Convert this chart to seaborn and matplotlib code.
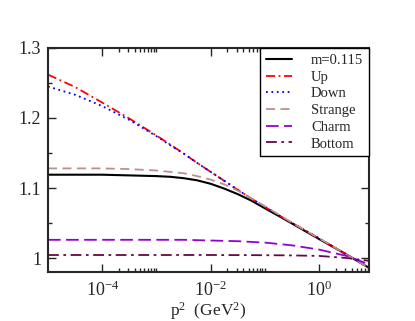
# Quark propagator ratio vs p^2 (log scale), xmgrace-style chart

import numpy as np
import pandas as pd
import matplotlib
matplotlib.use('Agg')
import matplotlib.pyplot as plt
import seaborn as sns
from matplotlib.ticker import FixedLocator, FuncFormatter

# ===== DATA ==================================================================

p2 = [1e-5, 3.2e-5, 1e-4, 3.2e-4, 1e-3, 1.8e-3, 3.2e-3, 5.6e-3, 1e-2,
      1.8e-2, 3.2e-2, 5.6e-2, 0.1, 0.18, 0.32, 1.0, 3.2, 8.3]

m0115   = [1.119, 1.119, 1.119, 1.118, 1.117, 1.116, 1.114, 1.111, 1.106,
           1.099, 1.091, 1.082, 1.071, 1.060, 1.049, 1.027, 1.005, 0.986]
up      = [1.262, 1.244, 1.222, 1.199, 1.175, 1.162, 1.149, 1.136, 1.123,
           1.110, 1.097, 1.085, 1.073, 1.061, 1.050, 1.028, 1.005, 0.986]
down    = [1.245, 1.233, 1.217, 1.197, 1.174, 1.161, 1.149, 1.136, 1.123,
           1.110, 1.097, 1.085, 1.073, 1.061, 1.050, 1.028, 1.005, 0.986]
strange = [1.128, 1.128, 1.128, 1.127, 1.125, 1.123, 1.121, 1.117, 1.112,
           1.105, 1.096, 1.085, 1.074, 1.062, 1.050, 1.028, 1.005, 0.986]
charm   = [1.026, 1.026, 1.026, 1.026, 1.026, 1.026, 1.026, 1.0255, 1.025,
           1.0245, 1.024, 1.023, 1.022, 1.020, 1.018, 1.012, 1.003, 0.991]
bottom  = [1.0043, 1.0043, 1.0043, 1.0043, 1.0043, 1.0043, 1.0043, 1.0043,
           1.0043, 1.0042, 1.0042, 1.0041, 1.0040, 1.0039, 1.0037, 1.003,
           1.000, 0.996]

labels = ['m=0.115', 'Up', 'Down', 'Strange', 'Charm', 'Bottom']
series = [m0115, up, down, strange, charm, bottom]

y_major = [1.0, 1.1, 1.2, 1.3]
x_major = [1e-4, 1e-2, 1e0]

# ===== STYLE =================================================================

sns.set_style('ticks')
plt.rcParams['font.family'] = ['Liberation Serif', 'DejaVu Serif']
plt.rcParams['mathtext.fontset'] = 'custom'
plt.rcParams['mathtext.rm'] = 'Liberation Serif'
plt.rcParams['mathtext.it'] = 'Liberation Serif:italic'

colors = ['#000000', '#ff0000', '#0000ff', '#bc8f8f', '#9400d3', '#670748']
styles = ['-',
          (0, (5, 2, 1, 2)),
          (0, (1, 2)),
          (0, (5, 3)),
          (0, (7, 3)),
          (0, (6, 2.5, 1.5, 2.5))]
widths = [1.5, 1.3, 1.3, 1.3, 1.3, 1.3]

# ===== PLOT ==================================================================

fig = plt.figure(figsize=(4.15, 3.21), dpi=100)
ax = fig.add_axes([0.1157, 0.1526, 0.7735, 0.6979])

for lab, ys, c, ls, lw in zip(labels, series, colors, styles, widths):
    df = pd.DataFrame({'p2': p2, 'val': ys})
    sns.lineplot(data=df, x='p2', y='val', ax=ax, color=c, linestyle=ls,
                 linewidth=lw, label=lab)

ax.set_xscale('log')
ax.set_xlim(1e-5, 8.3)
ax.set_ylim(0.98, 1.3)

ax.xaxis.set_major_locator(FixedLocator(x_major))
minors = [n * 10.0 ** k for k in (-4, -2, 0) for n in range(2, 11)]
ax.xaxis.set_minor_locator(FixedLocator(minors))
ax.xaxis.set_minor_formatter(FuncFormatter(lambda v, p: ''))

ax.yaxis.set_major_locator(FixedLocator(y_major))
ax.yaxis.set_minor_locator(FixedLocator([1.05, 1.15, 1.25]))
ax.yaxis.set_major_formatter(FuncFormatter(lambda v, p: '%g' % v))

ax.tick_params(which='both', direction='in', top=True, right=True,
               labelsize=13, width=1.0)
ax.tick_params(axis='x', pad=6)
ax.tick_params(axis='y', pad=5)
ax.tick_params(which='major', length=6)
ax.tick_params(which='minor', length=3)
for s in ax.spines.values():
    s.set_linewidth(1.5)

ax.set_xlabel('p$^2$  (GeV$^2$)', fontsize=12.5, labelpad=0)
ax.set_ylabel('')

leg = ax.legend(loc='upper right', bbox_to_anchor=(1.0, 1.0), borderaxespad=0,
                fancybox=False, edgecolor='black', framealpha=1,
                fontsize=10.5, handlelength=1.8, handletextpad=1.3,
                labelspacing=0.24, borderpad=0.4)
leg.get_frame().set_linewidth(1.0)

plt.savefig('out.png', dpi=100)
